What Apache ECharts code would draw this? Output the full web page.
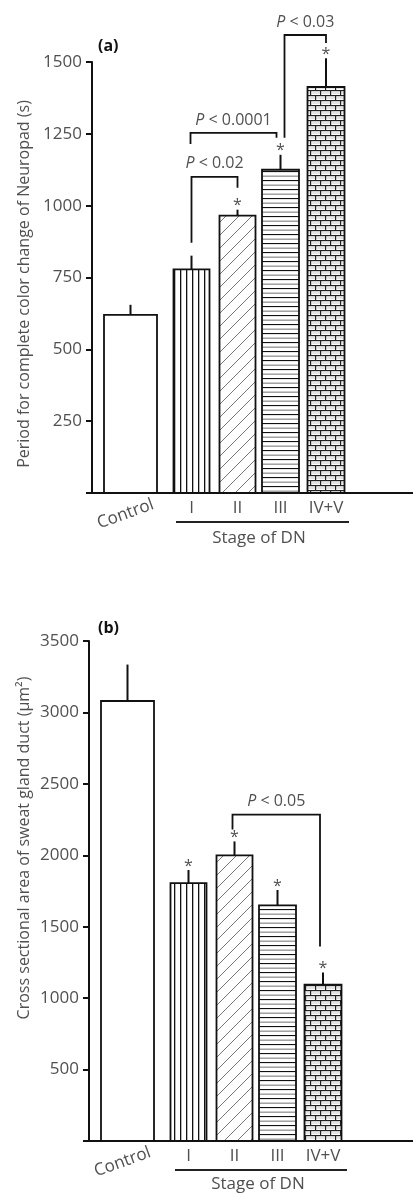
<!DOCTYPE html>
<html>
<head>
<meta charset="utf-8">
<script src="https://cdn.jsdelivr.net/npm/echarts@6/dist/echarts.min.js"></script>
<style>
  html, body { margin: 0; padding: 0; background: #fff; }
  #main { width: 413px; height: 1193px; }
</style>
</head>
<body>
<div id="main"></div>
<script>
// categories shared by both panels
const categories = ['Control', 'I', 'II', 'III', 'IV+V'];

// (a) period for complete colour change of Neuropad (s)
const neuropadMean = [620, 778, 965, 1125, 1413];
const neuropadErr = [35, 48, 21, 52, 100];
const neuropadStar = [0, 0, 1, 1, 1];
// brackets: [from, to, top, left leg end, right leg end]
const neuropadBrackets = [
  [1, 2, 1100, 871, 1062],
  [1, 3, 1253, 1215, 1236],
  [3, 4, 1594, 1236, 1566]
];
const neuropadPText = ['0.02', '0.0001', '0.03'];

// (b) cross sectional area of sweat gland duct (μm²)
const ductMean = [3080, 1805, 2000, 1650, 1095];
const ductErr = [255, 92, 97, 107, 85];
const ductStar = [0, 1, 1, 1, 1];
const ductBrackets = [
  [2, 4, 2285, 2180, 1361]
];
const ductPText = ['0.05'];

// layout (px along the hidden x axis, measured from the y axis)
const barCenter = [38.5, 99.5, 145.5, 188.5, 234];
const barWidth = [53, 36, 36, 37, 37];
const legShiftA = [[0, 0], [-1, -4], [4, 0]];
const legShiftB = [[-2, -3]];

const FONT = '"Open Sans", "Noto Sans", sans-serif';
const GREY = '#505050';

// hatch patterns ------------------------------------------------------
function makeCanvas(w, h, draw) {
  const c = document.createElement('canvas');
  c.width = w; c.height = h;
  const ctx = c.getContext('2d');
  ctx.fillStyle = '#fff';
  ctx.fillRect(0, 0, w, h);
  draw(ctx);
  return { image: c, repeat: 'repeat' };
}
const patterns = [
  '#fff',
  makeCanvas(6, 10, ctx => {
    ctx.fillStyle = '#111';
    ctx.fillRect(0, 0, 1.3, 10);
  }),
  makeCanvas(13, 13, ctx => {
    ctx.strokeStyle = '#666';
    ctx.lineWidth = 0.9;
    ctx.beginPath();
    ctx.moveTo(-1, 14); ctx.lineTo(14, -1);
    ctx.moveTo(-1, 1); ctx.lineTo(1, -1);
    ctx.moveTo(12, 14); ctx.lineTo(14, 12);
    ctx.stroke();
  }),
  makeCanvas(4, 9, ctx => {
    ctx.fillStyle = '#111';
    ctx.fillRect(0, 0, 4, 1.1);
    ctx.fillStyle = '#9a9a9a';
    ctx.fillRect(0, 4.5, 4, 1.4);
  }),
  makeCanvas(10, 10, ctx => {
    ctx.fillStyle = '#222';
    ctx.fillRect(0, 0, 10, 1.2);
    ctx.fillRect(0, 5, 10, 1.2);
    ctx.fillRect(0, 0, 1.2, 5);
    ctx.fillRect(5, 5, 1.2, 5);
    ctx.fillStyle = '#bbb';
    ctx.fillRect(1.2, 2.6, 8.8, 0.8);
    ctx.fillRect(0, 7.6, 5, 0.8);
    ctx.fillRect(6.2, 7.6, 3.8, 0.8);
  })
];

// renderers -----------------------------------------------------------
function barRender(stars) {
  return function (params, api) {
    const i = api.value(0);
    const v = api.value(1);
    const e = api.value(2);
    const base = api.coord([barCenter[i], 0]);
    const top = api.coord([barCenter[i], v]);
    const errTop = api.coord([barCenter[i], v + e]);
    const w = api.size([barWidth[i], 0])[0];
    const children = [
      {
        type: 'rect',
        shape: { x: top[0] - w / 2, y: top[1], width: w, height: base[1] - top[1] },
        style: { fill: patterns[i], stroke: '#111', lineWidth: 1.8 }
      },
      {
        type: 'line',
        shape: { x1: top[0], y1: top[1], x2: top[0], y2: errTop[1] },
        style: { stroke: '#111', lineWidth: 2 }
      }
    ];
    if (stars[i]) {
      children.push({
        type: 'text', x: top[0], y: errTop[1] - 4,
        style: { text: '*', fontSize: 16, fontFamily: FONT, fill: GREY,
                 align: 'center', verticalAlign: 'middle' }
      });
    }
    if (i === 0) {
      children.push({
        type: 'text', x: top[0] - 5, y: base[1] + 21, rotation: 20 * Math.PI / 180,
        style: { text: categories[i], fontSize: 17, fontFamily: FONT, fill: GREY,
                 align: 'center', verticalAlign: 'middle' }
      });
    } else {
      children.push({
        type: 'text', x: top[0], y: base[1] + 15,
        style: { text: categories[i], fontSize: 17, fontFamily: FONT, fill: GREY,
                 align: 'center', verticalAlign: 'middle' }
      });
    }
    return { type: 'group', children: children };
  };
}

function bracketRender(texts, shifts) {
  return function (params, api) {
    const k = params.dataIndex;
    const a = api.value(0), b = api.value(1);
    const yt = api.coord([0, api.value(2)])[1];
    const yl = api.coord([0, api.value(3)])[1];
    const yr = api.coord([0, api.value(4)])[1];
    const xl = api.coord([barCenter[a], 0])[0] + shifts[k][0];
    const xr = api.coord([barCenter[b], 0])[0] + shifts[k][1];
    const rich = {
      i: { fontStyle: 'italic', fontSize: 16, fontFamily: FONT, fill: GREY },
      n: { fontSize: 16, fontFamily: FONT, fill: GREY }
    };
    return {
      type: 'group',
      children: [
        {
          type: 'polyline',
          shape: { points: [[xl, yl], [xl, yt], [xr, yt], [xr, yr]] },
          style: { stroke: '#111', lineWidth: 1.8, fill: null }
        },
        {
          type: 'text', x: (xl + xr) / 2, y: yt - 13,
          style: { text: '{i|P}{n| < ' + texts[k] + '}', rich: rich,
                   fontSize: 16, fontFamily: FONT, fill: GREY,
                   align: 'center', verticalAlign: 'middle' }
        }
      ]
    };
  };
}

// axes ----------------------------------------------------------------
function yAxisOpt(gridIndex, max, interval) {
  return {
    gridIndex: gridIndex, type: 'value', min: 0, max: max, interval: interval,
    axisLine: { show: true, lineStyle: { color: '#111', width: 2 } },
    axisTick: { show: true, length: 6, lineStyle: { color: '#111', width: 2 } },
    axisLabel: { margin: 10, fontSize: 17, fontFamily: FONT, color: GREY,
                 formatter: v => (v === 0 ? '' : String(v)) },
    splitLine: { show: false }
  };
}
function xAxisOpt(gridIndex, max) {
  return {
    gridIndex: gridIndex, type: 'value', min: 0, max: max,
    axisLine: { show: true, onZero: false, lineStyle: { color: '#111', width: 2 } },
    axisTick: { show: false }, axisLabel: { show: false }, splitLine: { show: false }
  };
}

const chart = echarts.init(document.getElementById('main'), null, { renderer: 'canvas' });

const option = {
  backgroundColor: '#fff',
  animation: false,
  grid: [
    { left: 92, top: 62, right: 0, height: 431 },
    { left: 89, top: 641, right: 0, height: 500 }
  ],
  xAxis: [xAxisOpt(0, 321), xAxisOpt(1, 324)],
  yAxis: [yAxisOpt(0, 1500, 250), yAxisOpt(1, 3500, 500)],
  series: [
    {
      type: 'custom', xAxisIndex: 0, yAxisIndex: 0, clip: false,
      renderItem: barRender(neuropadStar),
      data: categories.map((c, i) => [i, neuropadMean[i], neuropadErr[i]])
    },
    {
      type: 'custom', xAxisIndex: 0, yAxisIndex: 0, clip: false,
      renderItem: bracketRender(neuropadPText, legShiftA),
      data: neuropadBrackets
    },
    {
      type: 'custom', xAxisIndex: 1, yAxisIndex: 1, clip: false,
      renderItem: barRender(ductStar),
      data: categories.map((c, i) => [i, ductMean[i], ductErr[i]])
    },
    {
      type: 'custom', xAxisIndex: 1, yAxisIndex: 1, clip: false,
      renderItem: bracketRender(ductPText, legShiftB),
      data: ductBrackets
    }
  ],
  graphic: [
    { type: 'text', x: 98, y: 46,
      style: { text: '(a)', fontSize: 16, fontWeight: 'bold', fontFamily: FONT, fill: '#111',
               verticalAlign: 'middle' } },
    { type: 'text', x: 98, y: 628,
      style: { text: '(b)', fontSize: 16, fontWeight: 'bold', fontFamily: FONT, fill: '#111',
               verticalAlign: 'middle' } },
    { type: 'text', x: 24, y: 284, rotation: Math.PI / 2,
      style: { text: 'Period for complete color change of Neuropad (s)', fontSize: 16,
               fontFamily: FONT, fill: GREY, align: 'center', verticalAlign: 'middle' } },
    { type: 'text', x: 24, y: 848, rotation: Math.PI / 2,
      style: { text: 'Cross sectional area of sweat gland duct (μm²)', fontSize: 16,
               fontFamily: FONT, fill: GREY, align: 'center', verticalAlign: 'middle' } },
    { type: 'line', shape: { x1: 176, y1: 522, x2: 349, y2: 522 },
      style: { stroke: '#222', lineWidth: 2 } },
    { type: 'text', x: 259, y: 538,
      style: { text: 'Stage of DN', fontSize: 17, fontFamily: FONT, fill: GREY,
               align: 'center', verticalAlign: 'middle' } },
    { type: 'line', shape: { x1: 175, y1: 1170, x2: 347, y2: 1170 },
      style: { stroke: '#222', lineWidth: 2 } },
    { type: 'text', x: 258, y: 1184,
      style: { text: 'Stage of DN', fontSize: 17, fontFamily: FONT, fill: GREY,
               align: 'center', verticalAlign: 'middle' } }
  ]
};

chart.setOption(option);
</script>
</body>
</html>
